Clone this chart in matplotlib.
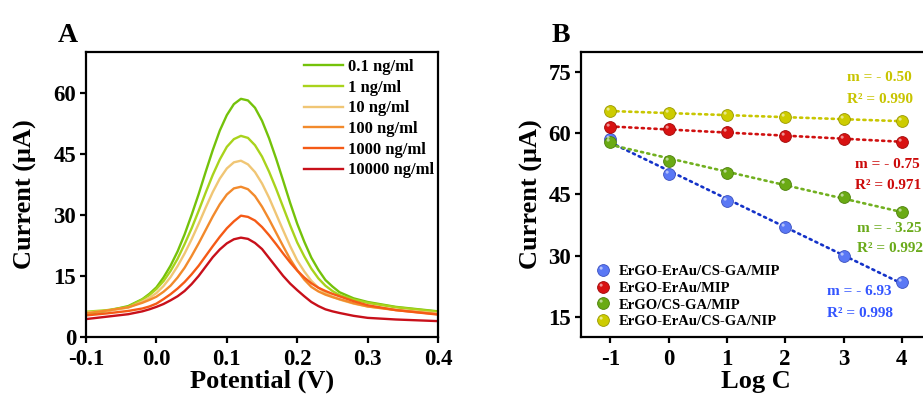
import numpy as np
import matplotlib
matplotlib.use('Agg')
import matplotlib.pyplot as plt
from matplotlib.path import Path

plt.rcParams['font.family'] = ['Liberation Serif', 'DejaVu Serif']
plt.rcParams['font.weight'] = 'bold'
plt.rcParams['axes.labelweight'] = 'bold'
plt.rcParams['axes.linewidth'] = 1.6
plt.rcParams['axes.unicode_minus'] = False

# data A: DPV curves
potential = [-0.10, -0.07, -0.04, -0.02, -0.01, 0.00, 0.01, 0.02, 0.03, 0.04, 0.05, 0.06,
             0.07, 0.08, 0.09, 0.10, 0.11, 0.12, 0.13, 0.14, 0.15, 0.16, 0.17, 0.18, 0.19,
             0.20, 0.21, 0.22, 0.23, 0.24, 0.25, 0.26, 0.28, 0.30, 0.34, 0.40]
current_0_1 = [5.6, 6.4, 7.6, 9.3, 10.6, 12.2, 14.6, 17.5, 21.0, 25.2, 30.0, 35.1,
               40.6, 45.9, 50.7, 54.5, 57.2, 58.5, 58.1, 56.3, 53.1, 48.8, 43.8, 38.4, 32.9,
               27.8, 23.4, 19.5, 16.5, 14.0, 12.4, 11.0, 9.5, 8.6, 7.4, 6.3]
current_1 = [6.2, 6.6, 7.4, 9.2, 10.3, 11.8, 13.7, 16.2, 19.2, 22.8, 26.7, 31.0,
             35.5, 39.8, 43.6, 46.7, 48.6, 49.4, 48.9, 47.1, 44.3, 40.6, 36.4, 31.9, 27.4,
             23.2, 19.8, 16.8, 14.4, 12.6, 11.3, 10.3, 9.2, 8.4, 7.3, 6.2]
current_10 = [6.0, 6.4, 7.2, 8.7, 9.6, 10.8, 12.5, 14.7, 17.4, 20.5, 24.0, 27.8,
              31.8, 35.6, 38.9, 41.4, 42.9, 43.3, 42.4, 40.5, 37.7, 34.2, 30.2, 26.2, 22.3,
              18.8, 16.1, 13.8, 12.1, 10.8, 9.9, 9.2, 8.2, 7.5, 6.7, 5.8]
current_100 = [5.8, 6.5, 7.3, 8.4, 9.1, 9.9, 11.1, 12.6, 14.6, 17.0, 19.9, 23.0,
               26.3, 29.6, 32.6, 35.0, 36.5, 36.9, 36.3, 34.6, 32.0, 28.9, 25.6, 22.3, 19.1,
               16.4, 14.1, 12.3, 11.2, 10.4, 9.8, 9.3, 8.3, 7.5, 6.6, 5.6]
current_1000 = [5.3, 5.8, 6.4, 7.0, 7.5, 8.2, 9.3, 10.5, 11.9, 13.5, 15.4, 17.5,
                19.9, 22.3, 24.6, 26.7, 28.4, 29.8, 29.5, 28.6, 27.0, 25.0, 22.8, 20.5, 18.3,
                16.3, 14.6, 13.2, 12.1, 11.3, 10.6, 10.0, 8.8, 7.8, 6.6, 5.5]
current_10000 = [4.4, 5.0, 5.6, 6.3, 6.8, 7.4, 8.1, 9.0, 10.0, 11.3, 13.0, 15.0,
                 17.3, 19.6, 21.5, 23.0, 24.0, 24.4, 24.1, 23.1, 21.6, 19.4, 17.2, 15.0, 13.1,
                 11.5, 10.0, 8.6, 7.6, 6.8, 6.3, 5.9, 5.2, 4.7, 4.3, 3.9]
curve_labels = ['0.1 ng/ml', '1 ng/ml', '10 ng/ml', '100 ng/ml', '1000 ng/ml', '10000 ng/ml']
curve_colors = ['#74c20a', '#a9d31c', '#f0c675', '#f28a2c', '#f55a16', '#c8101a']

# data B: calibration
log_c = [-1, 0, 1, 2, 3, 4]
mip = [58.7, 50.1, 43.5, 37.0, 30.0, 23.5]
erau_mip = [61.7, 61.0, 60.3, 59.3, 58.7, 58.0]
cs_mip = [57.8, 53.3, 50.2, 47.5, 44.3, 40.6]
nip = [65.5, 65.0, 64.5, 64.0, 63.5, 63.0]
series_labels = ['ErGO-ErAu/CS-GA/MIP', 'ErGO-ErAu/MIP', 'ErGO/CS-GA/MIP', 'ErGO-ErAu/CS-GA/NIP']
slope_labels = ['m = - 6.93', 'm = - 0.75', 'm = - 3.25', 'm = - 0.50']
r2_labels = ['R\u00b2 = 0.998', 'R\u00b2 = 0.971', 'R\u00b2 = 0.992', 'R\u00b2 = 0.990']
marker_colors = ['#5a78f5', '#d81212', '#6aaa14', '#cdcc00']
edge_colors = ['#3a50c0', '#a00808', '#4c800a', '#9a9800']
line_colors = ['#1432c8', '#d01010', '#72b020', '#c8c600']
text_colors = ['#3355ff', '#cc0a0a', '#6aaa1a', '#c8c400']

fig = plt.figure(figsize=(9.23, 3.96), dpi=100)
ax1 = fig.add_axes([0.0932, 0.149, 0.3814, 0.7197])
ax2 = fig.add_axes([0.6295, 0.149, 0.3792, 0.7197])

# panel A
curves = [current_0_1, current_1, current_10, current_100, current_1000, current_10000]
for values, label, color in zip(curves, curve_labels, curve_colors):
    ax1.plot(potential, values, color=color, lw=1.7, label=label, solid_joinstyle='round')

ax1.set(xlim=(-0.1, 0.4), ylim=(0, 70), xticks=[-0.1, 0.0, 0.1, 0.2, 0.3, 0.4],
        yticks=[0, 15, 30, 45, 60])
ax1.set_xticklabels(['-0.1', '0.0', '0.1', '0.2', '0.3', '0.4'])
ax1.legend(loc='upper left', bbox_to_anchor=(0.62, 0.975), frameon=False,
           prop={'size': 12, 'weight': 'bold'}, handlelength=2.35, handletextpad=0.25,
           labelspacing=0.28, borderpad=0, borderaxespad=0)
ax1.set_xlabel('Potential (V)', fontsize=19)
ax1.set_ylabel('Current (\u03bcA)', fontsize=19)
ax1.xaxis.set_label_coords(0.5, -0.115)
ax1.yaxis.set_label_coords(-0.14, 0.5)
ax1.text(-0.051, 1.035, 'A', transform=ax1.transAxes, fontsize=20, fontweight='bold',
         ha='center', va='baseline')

# panel B: glossy sphere markers
highlight = Path.circle(center=(-0.2, 0.2), radius=0.13)
ms = 8.5
hi_ms = ms * 0.33 / 0.5
series = [mip, erau_mip, cs_mip, nip]
handles = []
x_fit = np.array([-1, 4])
for values, mc, ec, lc in zip(series, marker_colors, edge_colors, line_colors):
    slope, intercept = np.polyfit(log_c, values, 1)
    ax2.plot(x_fit, slope * x_fit + intercept, color=lc, lw=1.9, ls=(0, (0.8, 1.6)),
             dash_capstyle='round', zorder=2)
    base, = ax2.plot(log_c, values, 'o', ms=ms, mfc=mc, mec=ec, mew=0.6, zorder=3)
    shine, = ax2.plot(log_c, values, ls='none', marker=highlight, ms=hi_ms, mfc='white',
                      mec='none', alpha=0.55, zorder=4)
    handles.append((base, shine))

label_pos = [(0.703, 0.158, 0.084), (0.783, 0.604, 0.53), (0.789, 0.382, 0.309),
             (0.76, 0.909, 0.835)]
for (x, y1, y2), m_txt, r_txt, tc in zip(label_pos, slope_labels, r2_labels, text_colors):
    ax2.text(x, y1, m_txt, transform=ax2.transAxes, color=tc, fontsize=11,
             fontweight='bold', va='center', ha='left', clip_on=False)
    ax2.text(x, y2, r_txt, transform=ax2.transAxes, color=tc, fontsize=11,
             fontweight='bold', va='center', ha='left', clip_on=False)

ax2.set(xlim=(-1.5, 4.5), ylim=(10, 80), xticks=log_c, yticks=[15, 30, 45, 60, 75])
ax2.legend(handles, series_labels, loc='lower left', bbox_to_anchor=(0.042, 0.03),
           frameon=False, prop={'size': 10.5, 'weight': 'bold'}, handlelength=1.0,
           handletextpad=0.6, labelspacing=0.25, borderpad=0, borderaxespad=0)
ax2.set_xlabel('Log C', fontsize=19)
ax2.set_ylabel('Current (\u03bcA)', fontsize=19)
ax2.xaxis.set_label_coords(0.5, -0.115)
ax2.yaxis.set_label_coords(-0.11, 0.5)
ax2.text(-0.057, 1.035, 'B', transform=ax2.transAxes, fontsize=20, fontweight='bold',
         ha='center', va='baseline')

for ax in (ax1, ax2):
    ax.tick_params(direction='out', length=4, width=1.6, labelsize=16.5, pad=3)
    ax.tick_params(axis='x', pad=5)

fig.savefig('out.png', dpi=100)
